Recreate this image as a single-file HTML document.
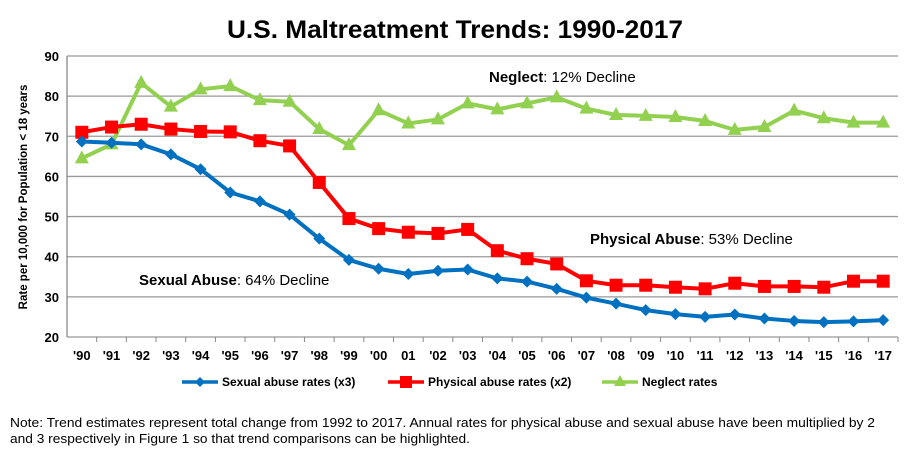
<!DOCTYPE html>
<html><head><meta charset="utf-8"><style>
body{margin:0;background:#fff;font-family:"Liberation Sans",sans-serif;}
#wrap{position:relative;width:911px;height:450px;overflow:hidden;}
</style></head><body>
<div id="wrap">
<svg id="chart" width="911" height="450"></svg>
</div>
<script>
const years=["'90","'91","'92","'93","'94","'95","'96","'97","'98","'99","'00","01","'02","'03","'04","'05","'06","'07","'08","'09","'10","'11","'12","'13","'14","'15","'16","'17"];
const sexualValues=[68.7,68.4,68,65.5,61.8,56,53.8,50.5,44.5,39.2,37,35.7,36.5,36.8,34.6,33.8,32,29.8,28.3,26.7,25.7,25,25.6,24.6,24,23.7,23.9,24.2];
const physicalValues=[71,72.3,73,71.8,71.2,71.1,68.9,67.6,58.5,49.5,47,46.1,45.8,46.8,41.5,39.5,38.2,34,32.9,32.9,32.4,32,33.4,32.6,32.6,32.4,33.9,33.9];
const neglectValues=[64.5,68,83.3,77.4,81.7,82.5,79,78.6,71.8,67.8,76.5,73.2,74.2,78.2,76.7,78.2,79.7,76.9,75.3,75.1,74.8,73.8,71.6,72.3,76.4,74.5,73.4,73.4];
const yTicks=[20,30,40,50,60,70,80,90];

const svg=document.getElementById('chart');
const NS='http://www.w3.org/2000/svg';
const L=67,R=898,T=56,B=337,yMin=20,yMax=90;
const step=(R-L)/years.length;
const x=i=>L+step*(i+0.5);
const y=v=>B-(v-yMin)/(yMax-yMin)*(B-T);
function mk(tag,attrs,parent){const e=document.createElementNS(NS,tag);for(const k in attrs)e.setAttribute(k,attrs[k]);(parent||svg).appendChild(e);return e;}

let t=mk('text',{x:455,y:38,'text-anchor':'middle','font-size':'25','font-weight':'bold',fill:'#000',textLength:'456',lengthAdjust:'spacingAndGlyphs'});
t.textContent='U.S. Maltreatment Trends:  1990-2017';



yTicks.forEach(v=>{
  const g=mk('line',{x1:L,x2:R,y1:y(v),y2:y(v),stroke:'#999','stroke-width':'1.3'});
  
  
  const tl=mk('text',{x:L-8,y:y(v)+5,'text-anchor':'end','font-size':'13','font-weight':'bold',fill:'#000'});
  tl.textContent=v;
  
  
});
let ax=mk('line',{x1:L,x2:L,y1:T,y2:B,stroke:'#888','stroke-width':'1.3'});


years.forEach((yr,i)=>{
  const tk=mk('line',{x1:L+step*(i+1),x2:L+step*(i+1),y1:B,y2:B+5,stroke:'#888'});
  
  
  const tl=mk('text',{x:x(i),y:B+23,'text-anchor':'middle','font-size':'13','font-weight':'bold',fill:'#000'});
  tl.textContent=yr;
  
  
});
t=mk('text',{x:27,y:197,'text-anchor':'middle','font-size':'11.5','font-weight':'bold',transform:'rotate(-90 27 197)'});
t.textContent='Rate per 10,000 for Population < 18 years';



function series(vals,color,shape,name){
  const pts=vals.map((v,i)=>x(i)+','+y(v)).join(' ');
  const pl=mk('polyline',{points:pts,fill:'none',stroke:color,'stroke-width':'4','stroke-linejoin':'round'});
  
  
  vals.forEach((v,i)=>{
    const cx=x(i),cy=y(v);let m;
    if(shape==='sq')m=mk('rect',{x:cx-6.5,y:cy-6.5,width:13,height:13,fill:color});
    else if(shape==='dia')m=mk('polygon',{points:`${cx},${cy-6} ${cx+6},${cy} ${cx},${cy+6} ${cx-6},${cy}`,fill:color});
    else m=mk('polygon',{points:`${cx},${cy-8} ${cx+7},${cy+5} ${cx-7},${cy+5}`,fill:color});
    
    
  });
}
series(neglectValues,'#92d050','tri','neglect');
series(physicalValues,'#ff0000','sq','physical-abuse');
series(sexualValues,'#0070c0','dia','sexual-abuse');

function ann(xx,yy,b,rest,name){
  const e=mk('text',{x:xx,y:yy,'font-size':'15',fill:'#000'});
  const s1=mk('tspan',{'font-weight':'bold'},e);s1.textContent=b;
  const s2=mk('tspan',{},e);s2.textContent=rest;
  
  
}
ann(489,82,'Neglect',': 12% Decline','neglect-annotation');
ann(590,244,'Physical Abuse',': 53% Decline','physical-annotation');
ann(139,285,'Sexual Abuse',':  64% Decline','sexual-annotation');

function leg(xx,color,shape,label,name){
  const yy=382;
  const l=mk('line',{x1:xx,x2:xx+36,y1:yy,y2:yy,stroke:color,'stroke-width':'3.5'});
  
  
  const cx=xx+18;let m;
  if(shape==='sq')m=mk('rect',{x:cx-6,y:yy-6,width:12,height:12,fill:color});
  else if(shape==='dia')m=mk('polygon',{points:`${cx},${yy-5} ${cx+5},${yy} ${cx},${yy+5} ${cx-5},${yy}`,fill:color});
  else m=mk('polygon',{points:`${cx},${yy-7} ${cx+6},${yy+4} ${cx-6},${yy+4}`,fill:color});
  
  
  const tx=mk('text',{x:xx+40,y:yy+4,'font-size':'12','font-weight':'bold'});
  tx.textContent=label;
  
  
}
leg(182,'#0070c0','dia','Sexual abuse rates (x3)','sexual-abuse');
leg(388,'#ff0000','sq','Physical abuse rates (x2)','physical-abuse');
leg(602,'#92d050','tri','Neglect rates','neglect');

const n1=mk('text',{x:10,y:427,'font-size':'12.5',textLength:'865',lengthAdjust:'spacingAndGlyphs'});
n1.textContent='Note: Trend estimates represent total change from 1992 to 2017. Annual rates for physical abuse and sexual abuse have been multiplied by 2';


const n2=mk('text',{x:10,y:443,'font-size':'12.5',textLength:'460',lengthAdjust:'spacingAndGlyphs'});
n2.textContent='and 3 respectively in Figure 1 so that trend comparisons can be highlighted.';


</script>
</body></html>
